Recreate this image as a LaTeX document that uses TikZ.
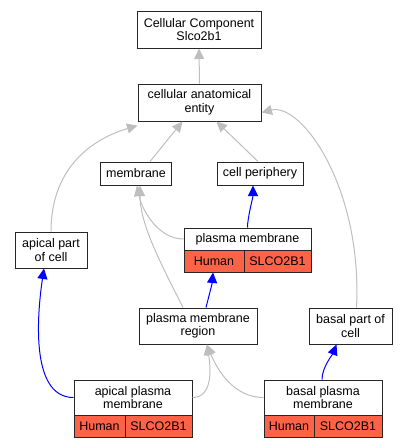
\documentclass[tikz,border=0pt]{standalone}
\usepackage{fontspec}
\setmainfont{Liberation Sans}
\usetikzlibrary{arrows.meta}
\definecolor{tomatoc}{HTML}{FF6347}
\definecolor{edgegray}{HTML}{BEBEBE}
\tikzset{
  box/.style={draw=black!85, line width=1pt, fill=white, inner sep=0pt, align=center,
    font=\fontsize{12.5}{13.5}\selectfont},
  cell/.style={box, fill=tomatoc},
  isa/.style={draw=edgegray, line width=1pt, -{Triangle[length=10.5pt,width=10pt]}},
  partof/.style={draw=blue, line width=1pt, -{Triangle[length=10.5pt,width=10pt]}},
}
\begin{document}
\begin{tikzpicture}[x=1pt,y=-1pt]
\useasboundingbox (0,0) rectangle (408,448);
% nodes
\node[box, minimum width=124pt, minimum height=37pt] (cc) at (199,29.5) {Cellular Component\\Slco2b1};
\node[box, minimum width=123pt, minimum height=37pt] (cae) at (199.5,102.5) {cellular anatomical\\entity};
\node[box, minimum width=71pt, minimum height=23pt] (mem) at (136,173.5) {membrane};
\node[box, minimum width=86pt, minimum height=23pt] (cp) at (260,173.5) {cell periphery};
\node[box, minimum width=127pt, minimum height=22pt] (pm) at (247.5,239) {plasma membrane};
\node[cell, minimum width=60pt, minimum height=22pt] (pmh) at (214,261) {Human};
\node[cell, minimum width=67pt, minimum height=22pt] (pms) at (277.5,261) {SLCO2B1};
\node[box, minimum width=72pt, minimum height=36pt] (apc) at (51,250) {apical part\\of cell};
\node[box, minimum width=118pt, minimum height=36pt] (pmr) at (198,326) {plasma membrane\\region};
\node[box, minimum width=83pt, minimum height=36pt] (bpc) at (350.5,326) {basal part of\\cell};
\node[box, minimum width=118pt, minimum height=35pt] (apm) at (133,397.5) {apical plasma\\membrane};
\node[cell, minimum width=51pt, minimum height=22pt] (apmh) at (99.5,426) {Human};
\node[cell, minimum width=67pt, minimum height=22pt] (apms) at (158.5,426) {SLCO2B1};
\node[box, minimum width=118pt, minimum height=35pt] (bpm) at (323,397.5) {basal plasma\\membrane};
\node[cell, minimum width=50pt, minimum height=22pt] (bpmh) at (289,426) {Human};
\node[cell, minimum width=68pt, minimum height=22pt] (bpms) at (348,426) {SLCO2B1};
% edges
\draw[isa] (cae.north) -- (cc.south);
\draw[isa] ([xshift=14pt]mem.north) -- ([xshift=-17pt]cae.south);
\draw[isa] ([xshift=-2pt]cp.north) -- ([xshift=17pt]cae.south);
\draw[isa] (apc.north) .. controls +(0,-60) and +(-50,15) .. ([yshift=-4pt]cae.south west);
\draw[isa] ([xshift=6pt]bpc.north) .. controls +(6,-120) and +(40,-10) .. ([yshift=-10pt]cae.east);
\draw[isa] (pm.west) .. controls +(-25,0) and +(5,25) .. ([xshift=1pt]mem.south);
\draw[isa] ([xshift=-15pt]pmr.north) .. controls +(-20,-40) and +(0,40) .. ([xshift=4pt]mem.south);
\draw[partof] ([xshift=8pt]pmr.north) .. controls +(2,-8) and +(-1,12) .. ([xshift=-1pt]pmh.south);
\draw[partof] (pm.north) .. controls +(0,-10) and +(0,12) .. ([xshift=-7pt]cp.south);
\draw[partof] (apm.west) .. controls +(-45,0) and +(-6,40) .. ([xshift=-7pt]apc.south);
\draw[isa] (apm.east) .. controls +(20,0) and +(4,25) .. ([xshift=9pt]pmr.south);
\draw[isa] (bpm.west) .. controls +(-30,0) and +(10,25) .. ([xshift=9pt]pmr.south);
\draw[partof] ([xshift=-1pt]bpm.north) .. controls +(0,-12) and +(-4,10) .. ([xshift=-14pt]bpc.south);
\end{tikzpicture}
\end{document}
